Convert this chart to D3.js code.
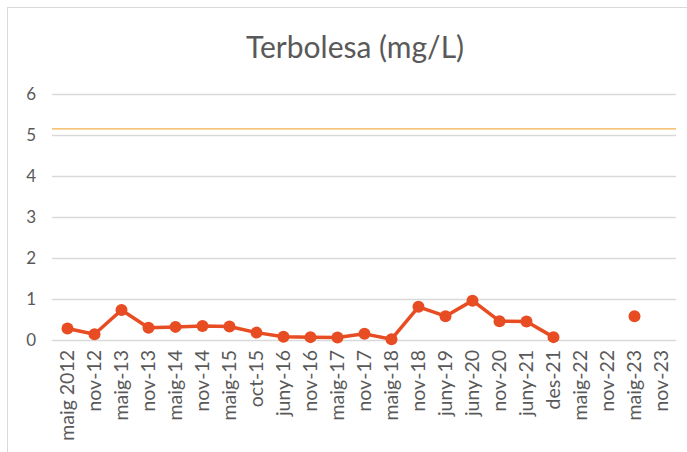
<!DOCTYPE html>
<html>
<head>
<meta charset="utf-8">
<script src="https://d3js.org/d3.v7.min.js"></script>
<style>
  body { margin: 0; background: #fff; }
  text { font-family: Lato, "Open Sans", sans-serif; fill: #595959; }
</style>
</head>
<body>
<div id="chart"></div>
<script>
// categories and values
var categories = ["maig 2012", "nov-12", "maig-13", "nov-13", "maig-14", "nov-14", "maig-15", "oct-15",
  "juny-16", "nov-16", "maig-17", "nov-17", "maig-18", "nov-18", "juny-19", "juny-20", "nov-20",
  "juny-21", "des-21", "maig-22", "nov-22", "maig-23", "nov-23"]
var values = [0.28, 0.14, 0.73, 0.30, 0.32, 0.34, 0.33, 0.18, 0.08, 0.07, 0.06, 0.15, 0.02,
  0.81, 0.58, 0.96, 0.46, 0.45, 0.07, null, null, 0.58, null]
var yTicks = [0, 1, 2, 3, 4, 5, 6]
var limit = 5.15

var width = 687, height = 452
var margin = {top: 94, right: 12, bottom: 112, left: 54}

var svg = d3.select("#chart").append("svg")
  .attr("width", width)
  .attr("height", height)

// chart frame
svg.append("rect")
  .attr("x", 7.5).attr("y", 7.5)
  .attr("width", 700).attr("height", 460)
  .attr("fill", "none")
  .attr("stroke", "#d9d9d9")

svg.append("text")
  .attr("x", 355).attr("y", 58)
  .attr("text-anchor", "middle")
  .style("font-size", "30px")
  .text("Terbolesa (mg/L)")

var x = d3.scaleBand()
  .domain(categories)
  .range([margin.left, 675])

var y = d3.scaleLinear()
  .domain([0, 6])
  .range([340, 94])

// gridlines
svg.append("g")
  .selectAll("line")
  .data(yTicks)
  .enter()
  .append("line")
  .attr("x1", margin.left - 2)
  .attr("x2", 676)
  .attr("y1", function(d){ return Math.round(y(d)) + 0.5 })
  .attr("y2", function(d){ return Math.round(y(d)) + 0.5 })
  .attr("stroke", "#d9d9d9")
  .attr("stroke-width", 1.3)

// y axis labels
var yAxis = svg.append("g")
  .attr("transform", "translate(" + 36 + ",0)")
  .call(d3.axisLeft(y).tickValues(yTicks).tickFormat(d3.format("d")).tickSize(0).tickPadding(0))
yAxis.select(".domain").remove()
yAxis.selectAll("text")
  .style("font-size", "17px")
  .style("font-family", "Lato, \"Open Sans\", sans-serif")
  .attr("fill", "#595959")

// limit line
svg.append("line")
  .attr("x1", margin.left - 2)
  .attr("x2", 676)
  .attr("y1", y(limit))
  .attr("y2", y(limit))
  .attr("stroke", "#f4b14f")
  .attr("stroke-width", 1.2)

// x axis labels
var xAxis = svg.append("g")
  .attr("transform", "translate(0," + 340 + ")")
  .call(d3.axisBottom(x).tickSize(0).tickPadding(0))
xAxis.select(".domain").remove()
xAxis.selectAll("text")
  .style("font-size", "19.5px")
  .style("font-family", "Lato, \"Open Sans\", sans-serif")
  .attr("fill", "#595959")
  .attr("text-anchor", "end")
  .attr("dy", "0.35em")
  .attr("transform", "translate(0,10) rotate(-90)")
  .attr("y", 0)
  .attr("x", 0)

var points = categories.map(function(c, i){ return {c: c, v: values[i]} })

var line = d3.line()
  .defined(function(d){ return d.v !== null })
  .x(function(d){ return x(d.c) + x.bandwidth() / 2 })
  .y(function(d){ return y(d.v) })

svg.append("path")
  .datum(points)
  .attr("d", line)
  .attr("fill", "none")
  .attr("stroke", "#e84c22")
  .attr("stroke-width", 3.5)
  .attr("stroke-linejoin", "round")

svg.selectAll(".dot")
  .data(points.filter(function(d){ return d.v !== null }))
  .enter()
  .append("circle")
  .attr("cx", function(d){ return x(d.c) + x.bandwidth() / 2 })
  .attr("cy", function(d){ return y(d.v) })
  .attr("r", 6)
  .attr("fill", "#e84c22")
</script>
</body>
</html>
